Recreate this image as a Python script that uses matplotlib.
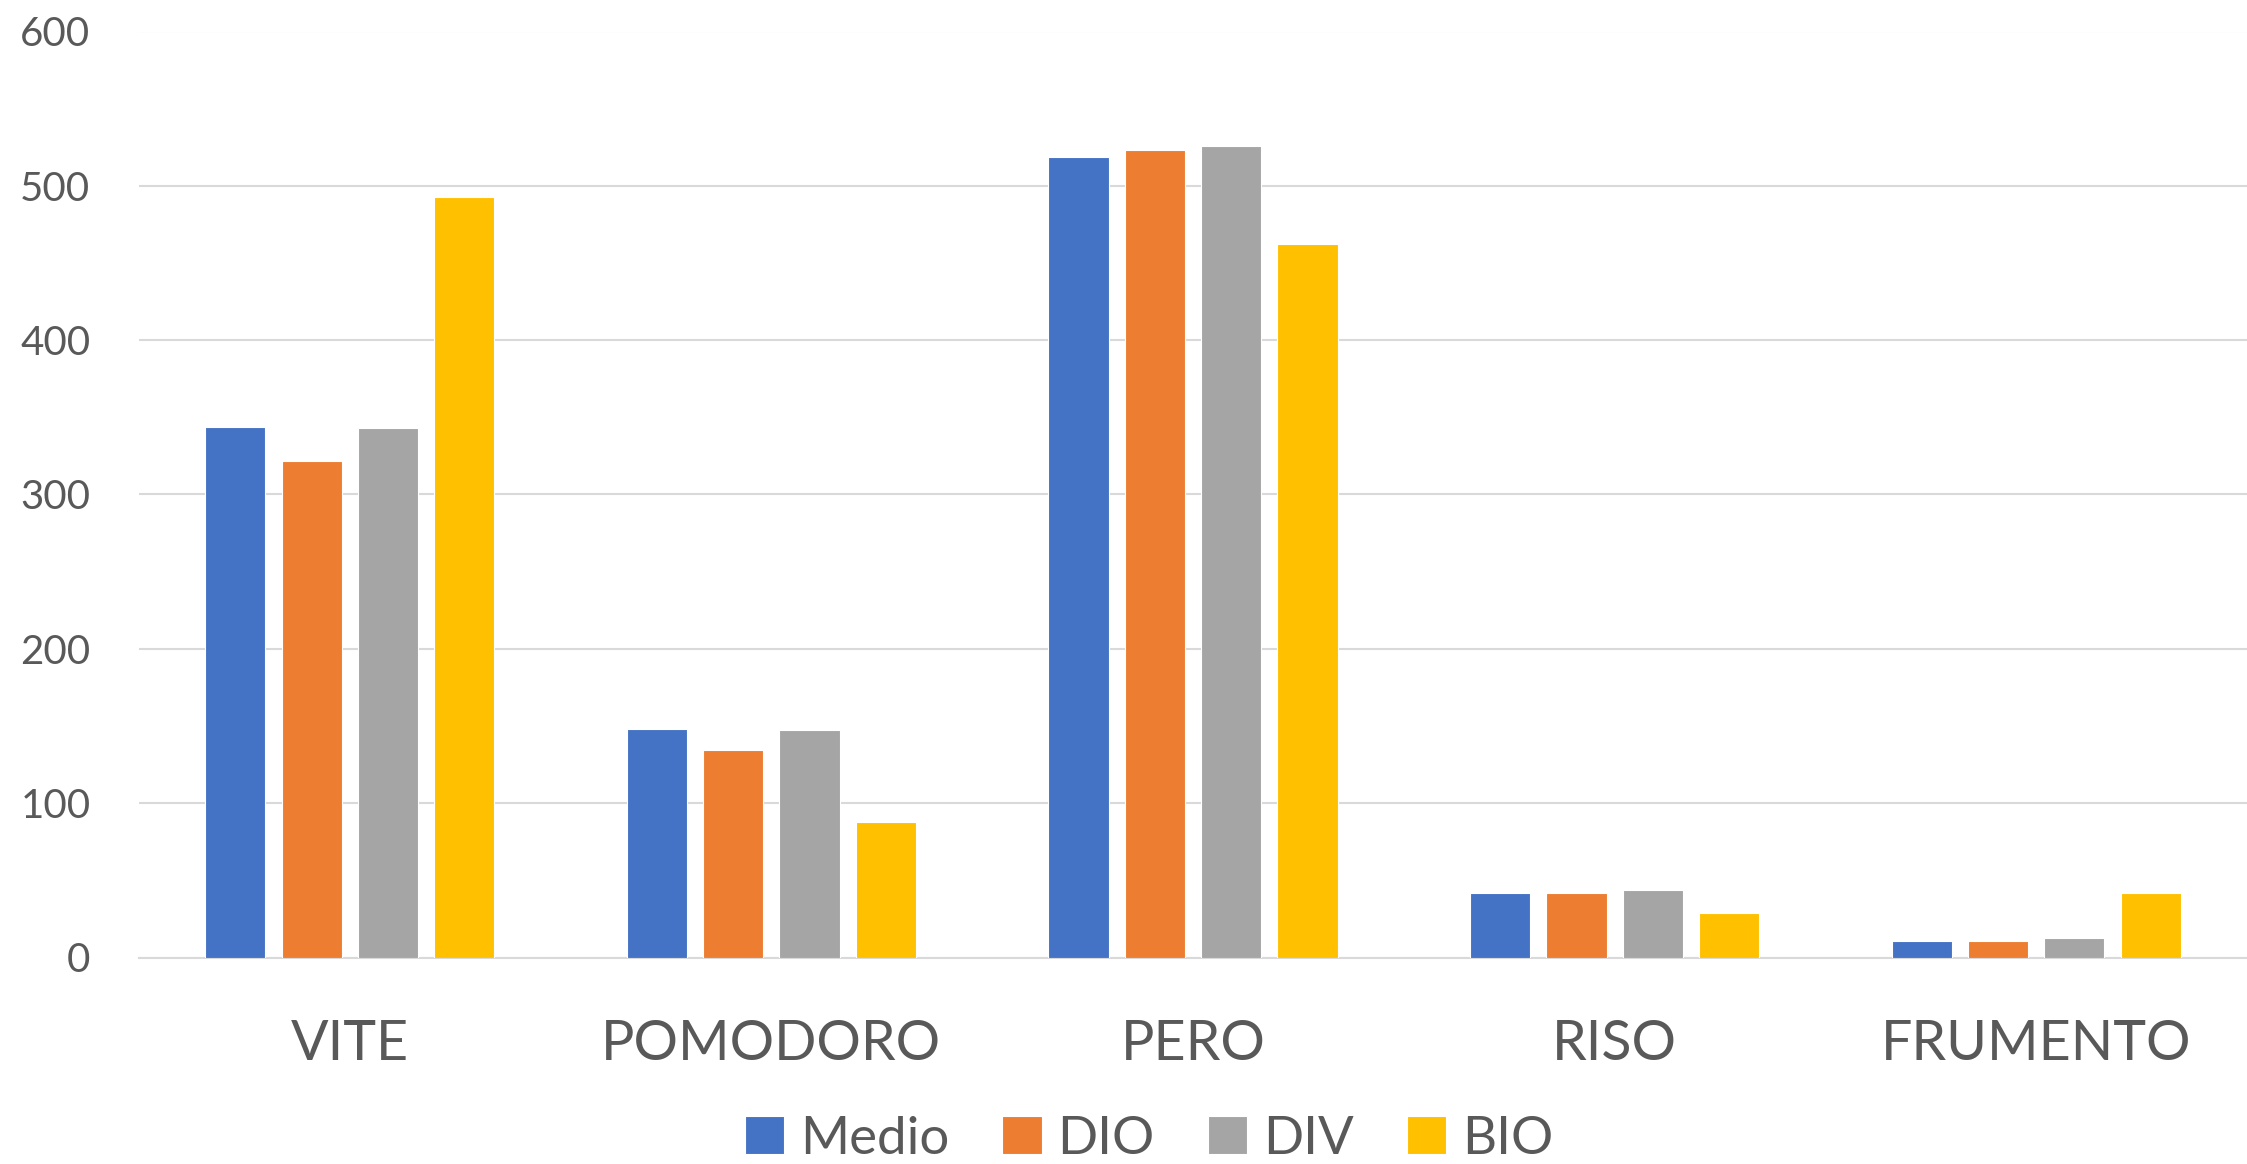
import matplotlib
matplotlib.use("Agg")
import matplotlib.pyplot as plt
import numpy as np

categories = ["VITE", "POMODORO", "PERO", "RISO", "FRUMENTO"]
series_names = ["Medio", "DIO", "DIV", "BIO"]
medio = [344, 148, 519, 42, 10.5]
dio = [322, 134.5, 523, 42, 10.5]
div = [343, 147.5, 525.5, 44, 12.5]
bio = [493, 87.5, 462, 29, 42]
colors = ["#4472C4", "#ED7D31", "#A5A5A5", "#FFC000"]
yticks = [0, 100, 200, 300, 400, 500, 600]

plt.rcParams['font.family'] = ['Lato', 'DejaVu Sans']
W, H = 2247, 1164
fig = plt.figure(figsize=(W/100, H/100), dpi=100)
ax = fig.add_axes([139/W, 1 - 957.5/H, (W-139)/W, (957.5-31.5)/H])

x = np.arange(len(categories))
pitch = 0.181
width = 0.143
handles = []
for i, (vals, name, c) in enumerate(zip([medio, dio, div, bio], series_names, colors)):
    b = ax.bar(x + (i-1.5)*pitch, vals, width, color=c, label=name,
               edgecolor='white', linewidth=0.8, zorder=3)
    handles.append(b)

ax.set_xlim(-0.5, len(categories)-0.5)
ax.set_ylim(0, 600)
ax.set_yticks(yticks)
ax.set_yticklabels([str(v) for v in yticks])
ax.set_xticks(x)
ax.set_xticklabels(categories)
ax.grid(axis='y', color='#D9D9D9', linewidth=1.5, zorder=0)
ax.set_axisbelow(True)
for s in ['top', 'right', 'left']:
    ax.spines[s].set_visible(False)
ax.spines['bottom'].set_color('#D9D9D9')
ax.spines['bottom'].set_linewidth(1.5)
ax.tick_params(axis='y', length=0, pad=35, labelsize=29, labelcolor='#595959')
ax.tick_params(axis='x', length=0, pad=44, labelsize=40, labelcolor='#595959')

fig.legend(handles=handles, labels=series_names, loc='center',
           bbox_to_anchor=(1149/W, 1 - 1139/H), ncol=4, frameon=False,
           fontsize=38, labelcolor='#595959', handlelength=0.75, handleheight=0.75,
           handletextpad=0.3, columnspacing=1.0, borderpad=0)

fig.savefig("out.png", dpi=100)
